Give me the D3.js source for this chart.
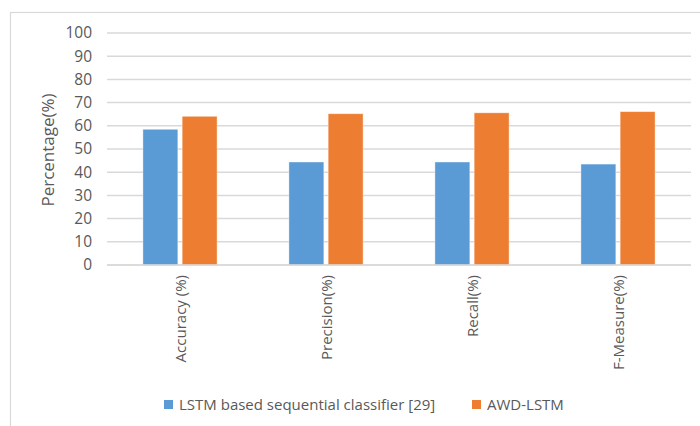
<!DOCTYPE html>
<html>
<head>
<meta charset="utf-8">
<script src="https://cdn.jsdelivr.net/npm/d3@7"></script>
<style>
  html, body { margin: 0; padding: 0; background: #fff; }
  svg { display: block; }
  text { font-family: "Open Sans", "Noto Sans", sans-serif; fill: #595959; }
</style>
</head>
<body>
<svg id="chart" width="700" height="426"></svg>
<script>
// Metric categories along the x axis
const categories = ["Accuracy (%)", "Precision(%)", "Recall(%)", "F-Measure(%)"];
// Series names and values (percent)
const seriesNames = ["LSTM based sequential classifier [29]", "AWD-LSTM"];
const lstmValues = [58.5, 44.4, 44.4, 43.5];
const awdValues = [64.1, 65.2, 65.6, 66.1];
const seriesColors = ["#5b9bd5", "#ed7d31"];
// Y axis ticks
const yTicks = [0, 10, 20, 30, 40, 50, 60, 70, 80, 90, 100];

const svg = d3.select("#chart");
const margin = { left: 107, right: 9, top: 33, bottom: 161 };
const W = 700, H = 426;

// Outer chart frame (runs off the right and bottom edges)
svg.append("rect")
  .attr("x", 10.5).attr("y", 12.5)
  .attr("width", 720).attr("height", 440)
  .attr("fill", "none").attr("stroke", "#d9d9d9").attr("stroke-width", 1.2);

const x0 = d3.scaleBand()
  .domain(categories)
  .range([margin.left, W - margin.right])
  .paddingInner(0).paddingOuter(0);

const y = d3.scaleLinear()
  .domain([0, 100])
  .range([H - margin.bottom, margin.top]);

// Horizontal gridlines
svg.append("g")
  .selectAll("line")
  .data(yTicks)
  .join("line")
  .attr("x1", margin.left).attr("x2", W - margin.right)
  .attr("y1", d => y(d)).attr("y2", d => y(d))
  .attr("stroke", "#d9d9d9").attr("stroke-width", 1.5);

// Y axis labels
const yAxis = d3.axisLeft(y).tickValues(yTicks).tickSize(0).tickPadding(0);
const gy = svg.append("g")
  .attr("transform", `translate(${margin.left - 15},0)`)
  .call(yAxis);
gy.select(".domain").remove();
gy.selectAll("text")
  .style("font-family", "'Open Sans', 'Noto Sans', sans-serif")
  .style("font-size", "15.5px").attr("fill", "#595959");

// Y axis title
svg.append("text")
  .attr("transform", `translate(54,${(y(0) + y(100)) / 2 + 1}) rotate(-90)`)
  .attr("text-anchor", "middle")
  .style("font-size", "17px")
  .text("Percentage(%)");

// Bars: within each category band, two bars of fixed share
const table = categories.map((c, i) => ({ cat: c, vals: [lstmValues[i], awdValues[i]] }));
const bw = x0.bandwidth();
const x1 = d3.scaleBand()
  .domain([0, 1])
  .range([bw * 0.246, bw * 0.754])
  .paddingInner(0.11);

const groups = svg.append("g")
  .selectAll("g")
  .data(table)
  .join("g")
  .attr("transform", d => `translate(${x0(d.cat)},0)`);

groups.selectAll("rect")
  .data(d => d.vals.map((v, k) => ({ k, v })))
  .join("rect")
  .attr("x", d => x1(d.k))
  .attr("width", x1.bandwidth())
  .attr("y", d => y(d.v))
  .attr("height", d => y(0) - y(d.v))
  .attr("fill", d => seriesColors[d.k])
  .attr("stroke", "#fff").attr("stroke-opacity", 0.5).attr("stroke-width", 0.8);

// X baseline
svg.append("line")
  .attr("x1", margin.left).attr("x2", W - margin.right)
  .attr("y1", y(0)).attr("y2", y(0))
  .attr("stroke", "#d9d9d9").attr("stroke-width", 1.5);

// Rotated category labels
const xAxis = d3.axisBottom(x0).tickSize(0).tickPadding(0);
const gx = svg.append("g")
  .attr("transform", `translate(0,${y(0)})`)
  .call(xAxis);
gx.select(".domain").remove();
gx.selectAll("text")
  .style("font-family", "'Open Sans', 'Noto Sans', sans-serif")
  .style("font-size", "15px").attr("fill", "#595959")
  .attr("text-anchor", "end")
  .attr("dy", null)
  .attr("y", 0)
  .attr("transform", "translate(6,10) rotate(-90)");

// Legend
const legendItems = [
  { name: seriesNames[0], color: seriesColors[0], x: 164 },
  { name: seriesNames[1], color: seriesColors[1], x: 472 }
];
const lg = svg.append("g").selectAll("g")
  .data(legendItems)
  .join("g")
  .attr("transform", d => `translate(${d.x},400)`);
lg.append("rect")
  .attr("width", 9).attr("height", 9)
  .attr("fill", d => d.color);
lg.append("text")
  .attr("x", 15).attr("y", 10)
  .style("font-size", "15px")
  .text(d => d.name);
</script>
</body>
</html>
